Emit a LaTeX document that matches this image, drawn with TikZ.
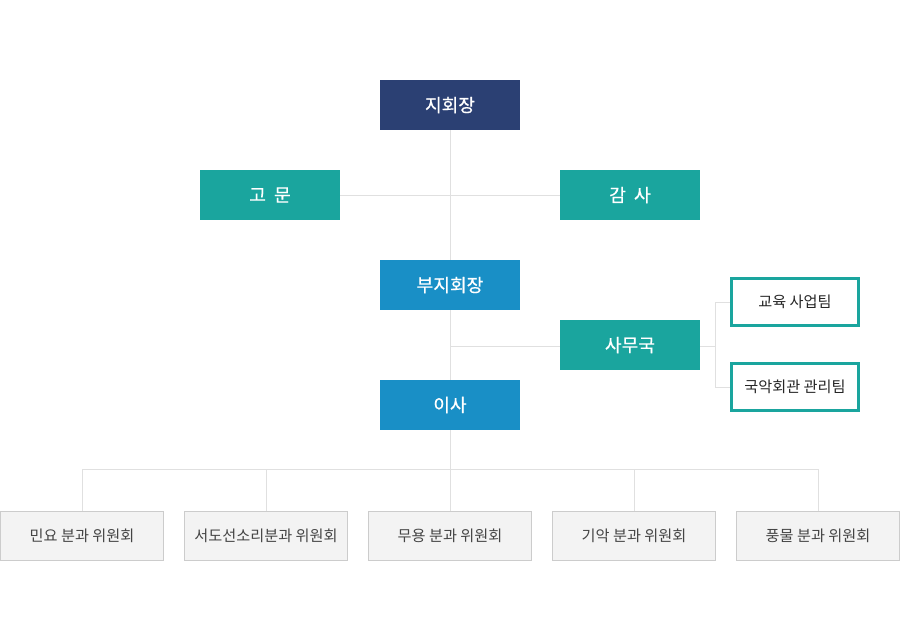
\documentclass[tikz,border=0pt]{standalone}
\usepackage{fontspec}
\setmainfont{Noto Sans CJK KR}
\newfontfamily\boxfont[FakeBold=0.45]{Noto Sans CJK KR}
\definecolor{navy}{HTML}{2B4073}
\definecolor{teal}{HTML}{1AA59E}
\definecolor{bluebox}{HTML}{198FC6}
\definecolor{linegray}{HTML}{E0E0E0}
\definecolor{boxgray}{HTML}{F3F3F3}
\definecolor{bordergray}{HTML}{CCCCCC}
\definecolor{textgray}{HTML}{444444}
\begin{document}
\begin{tikzpicture}[x=0.75pt,y=-0.75pt,
  solid box/.style={minimum width=105pt,minimum height=37.5pt,inner sep=0pt,text=white,font=\boxfont\fontsize{13.6}{15}\selectfont},
  team/.style={draw=teal,line width=2.25pt,fill=white,minimum width=95.25pt,minimum height=35.25pt,inner sep=0pt,text=black!85,font=\fontsize{11.4}{13}\selectfont},
  bottom/.style={draw=bordergray,line width=0.75pt,fill=boxgray,minimum width=122.25pt,minimum height=36.75pt,inner sep=0pt,text=textgray,font=\fontsize{11.4}{13}\selectfont},
  conn/.style={draw=linegray,line width=0.75pt}]
\useasboundingbox (0,0) rectangle (900,640);
\node[solid box,fill=navy] (pres) at (450,105) {지회장};
\node[solid box,fill=teal] (adv) at (270,195) {고\hspace{0.45em}문};
\node[solid box,fill=teal] (aud) at (630,195) {감\hspace{0.45em}사};
\node[solid box,fill=bluebox] (vice) at (450,285) {부지회장};
\node[solid box,fill=teal] (office) at (630,345) {사무국};
\node[solid box,fill=bluebox] (dir) at (450,405) {이사};
\node[team] (edu) at (795,302) {교육 사업팀};
\node[team] (hall) at (795,387) {국악회관 관리팀};
\node[bottom] (b1) at (82,536) {민요 분과 위원회};
\node[bottom] (b2) at (266,536) {서도선소리분과 위원회};
\node[bottom] (b3) at (450,536) {무용 분과 위원회};
\node[bottom] (b4) at (634,536) {기악 분과 위원회};
\node[bottom] (b5) at (818,536) {풍물 분과 위원회};
\coordinate (bus) at (450,469);
\coordinate (mid) at (450,346);
\coordinate (tb) at (715,346);
\draw[conn] (pres.south) -- (vice.north);
\draw[conn] (adv.east) -- (aud.west);
\draw[conn] (vice.south) -- (dir.north);
\draw[conn] (mid) -- (mid -| office.west);
\draw[conn] (dir.south) -- (bus);
\draw[conn] (tb -| office.east) -- (tb);
\draw[conn] (tb) |- (edu.west);
\draw[conn] (tb) |- (hall.west);
\draw[conn] (b1.north) |- (bus);
\draw[conn] (b5.north) |- (bus);
\draw[conn] (b2.north) -- (b2.north |- bus);
\draw[conn] (b3.north) -- (bus);
\draw[conn] (b4.north) -- (b4.north |- bus);
\end{tikzpicture}
\end{document}
